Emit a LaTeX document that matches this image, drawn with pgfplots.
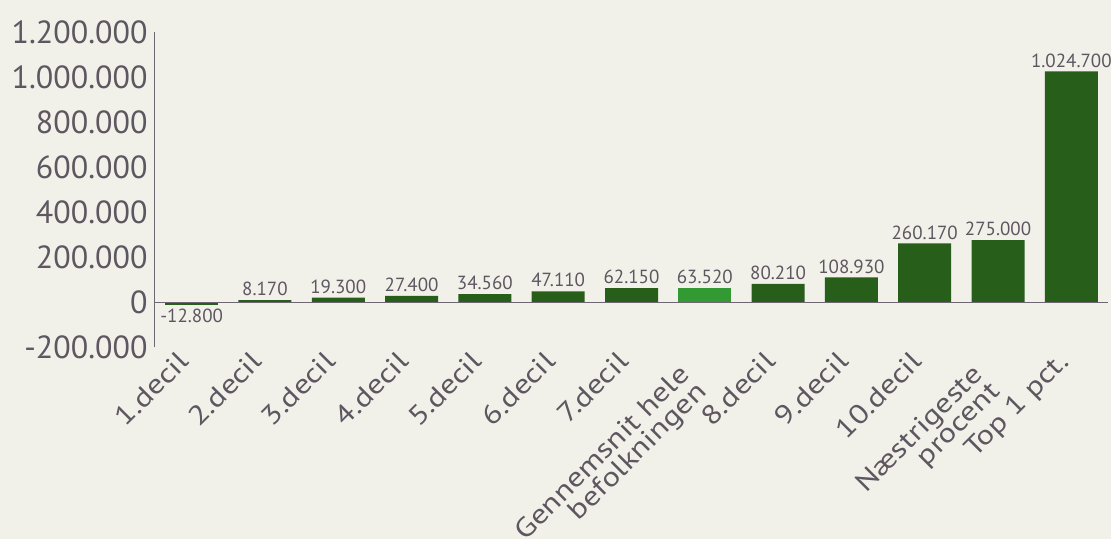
\documentclass[border=0pt]{standalone}
\usepackage{pgfplots}
\usepackage{pgfplotstable}
\pgfplotsset{compat=1.18}
\usepackage{fontspec}
\setmainfont{PT Sans}
\newfontfamily\xfont[FakeStretch=1.2]{PT Sans}
\definecolor{bg}{HTML}{F2F1E9}
\definecolor{dg}{HTML}{275E1A}
\definecolor{lg}{HTML}{339933}
\definecolor{tx}{HTML}{5E5660}
\definecolor{ax}{HTML}{6E6670}
\pgfplotstableread{
x y lab
0 -12800 -12.800
}\neg
\pgfplotstableread{
x y lab
1 8170 8.170
2 19300 19.300
3 27400 27.400
4 34560 34.560
5 47110 47.110
6 62150 62.150
8 80210 80.210
9 108930 108.930
10 260170 260.170
11 275000 275.000
12 1024700 1.024.700
}\deciles
\pgfplotstableread{
x y lab
7 63520 63.520
}\avg
\begin{document}
\begin{tikzpicture}
\fill[bg] (0,0) rectangle (1111pt,539pt);
\useasboundingbox (0,0) rectangle (1111pt,539pt);
\begin{axis}[
  at={(155pt,192pt)}, anchor=south west,
  scale only axis, width=953pt, height=315pt,
  xmin=-0.5, xmax=12.5, ymin=-200000, ymax=1200000,
  scaled y ticks=false,
  axis lines*=left,
  axis line style={-},
  x axis line style={draw=none},
  y axis line style={ax, line width=1pt},
  major tick length=0pt,
  ytick={-200000,0,200000,400000,600000,800000,1000000,1200000},
  yticklabels={-200.000,0,200.000,400.000,600.000,800.000,1.000.000,1.200.000},
  yticklabel style={font=\fontsize{32}{32}\selectfont, text=tx, xshift=-4pt},
  xtick={0,...,12},
  xticklabels={1.decil,2.decil,3.decil,4.decil,5.decil,6.decil,7.decil,{Gennemsnit hele\hspace*{18pt}\\befolkningen\hspace*{18pt}},8.decil,9.decil,10.decil,{Næstrigeste\hspace*{18pt}\\procent\hspace*{18pt}},Top 1 pct.},
  xticklabel style={xshift=-15pt, yshift=-1pt, rotate=45, anchor=north east, align=right, font=\xfont\fontsize{27}{24}\selectfont, text=tx, inner sep=1pt},
  ybar, bar width=53pt, bar shift=0pt,
  point meta=explicit symbolic,
  nodes near coords,
  nodes near coords style={font=\fontsize{19}{19}\selectfont, text=tx, inner sep=4pt},
  clip=false,
]
\addplot[fill=dg, draw=none, nodes near coords style={anchor=north}] table[x=x, y=y, meta=lab] {\neg};
\addplot[fill=dg, draw=none] table[x=x, y=y, meta=lab] {\deciles};
\addplot[fill=lg, draw=none] table[x=x, y=y, meta=lab] {\avg};
\draw[ax, line width=1pt] (axis cs:-0.5,0) -- (axis cs:12.5,0);
\end{axis}
\end{tikzpicture}
\end{document}
